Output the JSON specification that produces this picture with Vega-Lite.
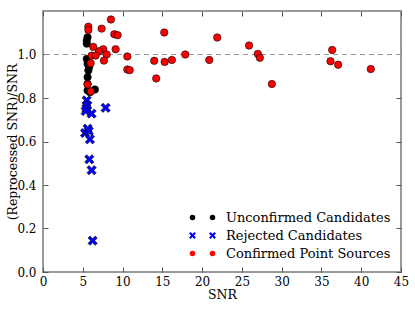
{
  "$schema": "https://vega.github.io/schema/vega-lite/v6.json",
  "width": 358,
  "height": 261,
  "autosize": "none",
  "padding": {"left": 43, "top": 11, "right": 14, "bottom": 37},
  "config": {
    "font": "DejaVu Serif",
    "view": {"stroke": "#999999", "strokeWidth": 2},
    "axis": {
      "grid": false,
      "domain": false,
      "labelFlush": false,
      "labelOverlap": false,
      "tickColor": "#555555",
      "tickSize": -5,
      "tickWidth": 1,
      "labelFont": "DejaVu Serif",
      "labelFontSize": 12,
      "labelColor": "#000000",
      "titleFont": "DejaVu Serif",
      "titleFontSize": 12.5,
      "titleFontWeight": "normal",
      "titleColor": "#000000"
    },
    "legend": {
      "labelFont": "DejaVu Serif",
      "labelFontSize": 13,
      "labelColor": "#000000",
      "labelLimit": 400
    }
  },
  "data": {
    "values": [
      {"x": 5.49, "y": 0.789, "group": "Rejected Candidates"},
      {"x": 5.57, "y": 0.766, "group": "Rejected Candidates"},
      {"x": 5.45, "y": 0.752, "group": "Rejected Candidates"},
      {"x": 5.36, "y": 0.740, "group": "Rejected Candidates"},
      {"x": 6.11, "y": 0.728, "group": "Rejected Candidates"},
      {"x": 7.87, "y": 0.755, "group": "Rejected Candidates"},
      {"x": 5.61, "y": 0.659, "group": "Rejected Candidates"},
      {"x": 5.28, "y": 0.639, "group": "Rejected Candidates"},
      {"x": 5.75, "y": 0.648, "group": "Rejected Candidates"},
      {"x": 5.90, "y": 0.610, "group": "Rejected Candidates"},
      {"x": 5.82, "y": 0.518, "group": "Rejected Candidates"},
      {"x": 6.11, "y": 0.468, "group": "Rejected Candidates"},
      {"x": 6.24, "y": 0.144, "group": "Rejected Candidates"},
      {"x": 5.60, "y": 1.079, "group": "Unconfirmed Candidates"},
      {"x": 5.50, "y": 1.064, "group": "Unconfirmed Candidates"},
      {"x": 5.50, "y": 1.050, "group": "Unconfirmed Candidates"},
      {"x": 5.50, "y": 0.980, "group": "Unconfirmed Candidates"},
      {"x": 5.60, "y": 0.957, "group": "Unconfirmed Candidates"},
      {"x": 5.80, "y": 0.942, "group": "Unconfirmed Candidates"},
      {"x": 5.70, "y": 0.927, "group": "Unconfirmed Candidates"},
      {"x": 5.60, "y": 0.896, "group": "Unconfirmed Candidates"},
      {"x": 5.60, "y": 0.865, "group": "Unconfirmed Candidates"},
      {"x": 5.60, "y": 0.835, "group": "Unconfirmed Candidates"},
      {"x": 6.53, "y": 0.839, "group": "Unconfirmed Candidates"},
      {"x": 5.90, "y": 0.827, "group": "Unconfirmed Candidates"},
      {"x": 8.54, "y": 1.161, "group": "Confirmed Point Sources"},
      {"x": 5.70, "y": 1.128, "group": "Confirmed Point Sources"},
      {"x": 5.70, "y": 1.113, "group": "Confirmed Point Sources"},
      {"x": 7.37, "y": 1.119, "group": "Confirmed Point Sources"},
      {"x": 8.96, "y": 1.093, "group": "Confirmed Point Sources"},
      {"x": 9.38, "y": 1.089, "group": "Confirmed Point Sources"},
      {"x": 6.32, "y": 1.035, "group": "Confirmed Point Sources"},
      {"x": 7.58, "y": 1.024, "group": "Confirmed Point Sources"},
      {"x": 7.04, "y": 1.015, "group": "Confirmed Point Sources"},
      {"x": 9.13, "y": 1.024, "group": "Confirmed Point Sources"},
      {"x": 8.00, "y": 1.000, "group": "Confirmed Point Sources"},
      {"x": 6.11, "y": 0.995, "group": "Confirmed Point Sources"},
      {"x": 6.62, "y": 0.995, "group": "Confirmed Point Sources"},
      {"x": 10.60, "y": 0.991, "group": "Confirmed Point Sources"},
      {"x": 7.66, "y": 0.972, "group": "Confirmed Point Sources"},
      {"x": 5.99, "y": 0.960, "group": "Confirmed Point Sources"},
      {"x": 10.60, "y": 0.931, "group": "Confirmed Point Sources"},
      {"x": 10.90, "y": 0.928, "group": "Confirmed Point Sources"},
      {"x": 5.60, "y": 0.862, "group": "Confirmed Point Sources"},
      {"x": 6.00, "y": 0.830, "group": "Confirmed Point Sources"},
      {"x": 15.24, "y": 1.101, "group": "Confirmed Point Sources"},
      {"x": 21.90, "y": 1.078, "group": "Confirmed Point Sources"},
      {"x": 25.90, "y": 1.041, "group": "Confirmed Point Sources"},
      {"x": 17.88, "y": 1.000, "group": "Confirmed Point Sources"},
      {"x": 13.98, "y": 0.971, "group": "Confirmed Point Sources"},
      {"x": 15.29, "y": 0.966, "group": "Confirmed Point Sources"},
      {"x": 16.20, "y": 0.975, "group": "Confirmed Point Sources"},
      {"x": 20.90, "y": 0.975, "group": "Confirmed Point Sources"},
      {"x": 14.23, "y": 0.890, "group": "Confirmed Point Sources"},
      {"x": 27.00, "y": 1.003, "group": "Confirmed Point Sources"},
      {"x": 27.26, "y": 0.985, "group": "Confirmed Point Sources"},
      {"x": 28.77, "y": 0.864, "group": "Confirmed Point Sources"},
      {"x": 36.35, "y": 1.021, "group": "Confirmed Point Sources"},
      {"x": 36.14, "y": 0.969, "group": "Confirmed Point Sources"},
      {"x": 37.10, "y": 0.953, "group": "Confirmed Point Sources"},
      {"x": 41.20, "y": 0.933, "group": "Confirmed Point Sources"}
    ]
  },
  "layer": [
    {
      "mark": {"type": "rule", "color": "#999999", "strokeDash": [5, 4], "strokeWidth": 1},
      "encoding": {
        "y": {"datum": 1, "type": "quantitative", "axis": null}
      }
    },
    {
      "mark": {"type": "point", "filled": true, "stroke": "#000000", "strokeWidth": 0.6, "size": 55, "opacity": 1},
      "encoding": {
        "x": {"field": "x", "type": "quantitative", "scale": {"domain": [0, 45], "nice": false, "zero": false},
              "axis": {"orient": "bottom", "values": [0, 5, 10, 15, 20, 25, 30, 35, 40, 45], "title": "SNR", "labelPadding": 9, "titlePadding": 1}},
        "y": {"field": "y", "type": "quantitative", "scale": {"domain": [0, 1.2], "nice": false, "zero": false},
              "axis": {"orient": "left", "values": [0, 0.2, 0.4, 0.6, 0.8, 1.0], "format": ".1f", "title": "(Reprocessed SNR)/SNR", "labelPadding": 12, "titlePadding": -3}},
        "color": {"field": "group", "type": "nominal",
                  "scale": {"domain": ["Unconfirmed Candidates", "Rejected Candidates", "Confirmed Point Sources"], "range": ["#000000", "#0000ff", "#ff0000"]},
                  "legend": {"orient": "none", "legendX": 143, "legendY": 200, "title": null, "labelExpr": "''", "symbolSize": 30, "symbolStrokeWidth": 0, "padding": 0, "rowPadding": 4, "labelFontSize": 13}},
        "shape": {"field": "group", "type": "nominal",
                  "scale": {"domain": ["Unconfirmed Candidates", "Rejected Candidates", "Confirmed Point Sources"], "range": ["circle", "M-1.25,-0.7L-0.7,-1.25L0,-0.55L0.7,-1.25L1.25,-0.7L0.55,0L1.25,0.7L0.7,1.25L0,0.55L-0.7,1.25L-1.25,0.7L-0.55,0Z", "circle"]},
                  "legend": {"orient": "none", "legendX": 143, "legendY": 200, "title": null, "labelExpr": "''", "symbolSize": 30, "symbolStrokeWidth": 0, "padding": 0, "rowPadding": 4, "labelFontSize": 13}}
      }
    },
    {
      "mark": {"type": "point", "filled": true, "size": 55, "opacity": 0},
      "encoding": {
        "x": {"field": "x", "type": "quantitative",
              "axis": {"orient": "top", "values": [0, 5, 10, 15, 20, 25, 30, 35, 40, 45], "labels": false, "title": null}},
        "y": {"field": "y", "type": "quantitative",
              "axis": {"orient": "right", "values": [0, 0.2, 0.4, 0.6, 0.8, 1.0], "labels": false, "title": null}},
        "color": {"field": "group", "type": "nominal",
                  "legend": {"orient": "none", "legendX": 163, "legendY": 200, "title": null, "symbolSize": 30, "symbolStrokeWidth": 0, "symbolOpacity": 1, "padding": 0, "rowPadding": 4, "labelOffset": 7, "labelFontSize": 13, "labelLimit": 400}},
        "shape": {"field": "group", "type": "nominal",
                  "legend": {"orient": "none", "legendX": 163, "legendY": 200, "title": null, "symbolSize": 30, "symbolStrokeWidth": 0, "symbolOpacity": 1, "padding": 0, "rowPadding": 4, "labelOffset": 7, "labelFontSize": 13, "labelLimit": 400}}
      }
    }
  ],
  "resolve": {
    "axis": {"x": "independent", "y": "independent"},
    "legend": {"color": "independent", "shape": "independent"}
  }
}
